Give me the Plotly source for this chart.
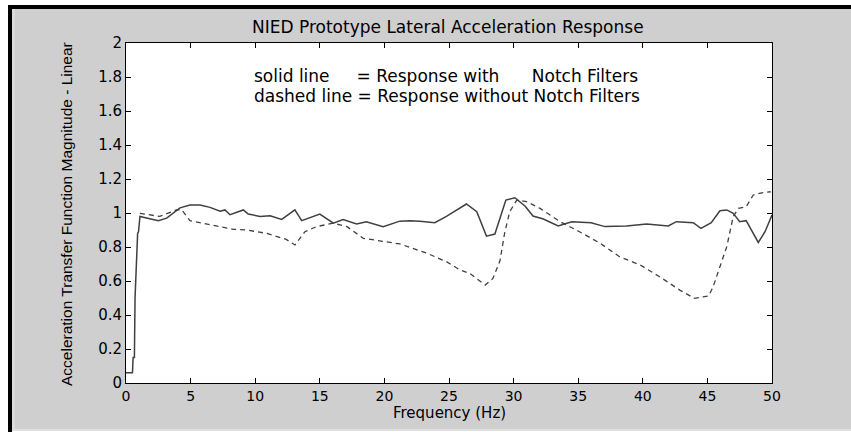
import plotly.graph_objects as go

# ---- data ----
solid_f = [0, 0.5, 0.55, 0.65, 0.7, 0.8, 0.85, 0.9, 0.97, 1.08, 2.5, 3.15, 4.18, 4.95, 5.73, 6.5, 7.28,
           7.66, 8.05, 9.08, 9.46, 10.37, 11.15, 12.05, 13.07, 13.6, 15.0, 16.05, 16.8, 17.85,
           18.6, 19.9, 21.2, 22.0, 22.75, 23.9, 24.8, 25.7, 26.35, 27.15, 27.9, 28.55, 29.4,
           30.1, 30.9, 31.5, 32.3, 33.45, 34.5, 36.0, 37.06, 38.74, 40.3, 41.97, 42.6, 43.9,
           44.5, 45.3, 45.97, 46.5, 47.0, 47.5, 48.0, 48.94, 49.46, 50.0]
solid_v = [0.06, 0.06, 0.15, 0.15, 0.5, 0.7, 0.7, 0.88, 0.89, 0.98, 0.955, 0.97, 1.03, 1.047, 1.047,
           1.033, 1.01, 1.018, 0.99, 1.018, 0.994, 0.98, 0.984, 0.962, 1.018, 0.955, 0.994, 0.94,
           0.962, 0.935, 0.949, 0.92, 0.952, 0.955, 0.952, 0.943, 0.98, 1.02, 1.053, 1.008, 0.864,
           0.876, 1.076, 1.09, 1.04, 0.982, 0.965, 0.924, 0.949, 0.943, 0.92, 0.924, 0.935, 0.924,
           0.949, 0.943, 0.91, 0.943, 1.013, 1.018, 0.998, 0.949, 0.955, 0.827, 0.89, 0.988]

dashed_f = [1.08, 2.6, 3.9, 4.3, 4.95, 5.73, 7.0, 8.3, 9.34, 10.9, 12.4, 13.08, 13.85, 14.75,
            16.05, 17.1, 18.37, 19.9, 21.2, 23.3, 24.8, 25.85, 26.6, 27.8, 28.4, 28.95, 29.3,
            29.7, 30.25, 31.0, 32.05, 33.6, 35.1, 36.7, 38.2, 39.8, 41.3, 42.9, 44.0, 45.1,
            45.45, 45.97, 46.5, 47.0, 47.4, 48.0, 48.55, 49.3, 49.9]
dashed_v = [0.998, 0.98, 1.018, 1.02, 0.955, 0.943, 0.92, 0.904, 0.9, 0.88, 0.845, 0.812, 0.89,
            0.92, 0.94, 0.92, 0.851, 0.831, 0.818, 0.763, 0.714, 0.665, 0.645, 0.576, 0.615,
            0.72, 0.88, 1.008, 1.076, 1.067, 1.027, 0.949, 0.89, 0.822, 0.743, 0.694, 0.625,
            0.545, 0.498, 0.512, 0.567, 0.684, 0.802, 0.98, 1.027, 1.037, 1.106, 1.12, 1.125]

x_ticks = [0, 5, 10, 15, 20, 25, 30, 35, 40, 45, 50]
y_ticks = [0, 0.2, 0.4, 0.6, 0.8, 1, 1.2, 1.4, 1.6, 1.8, 2]
y_tick_text = ["0", "0.2", "0.4", "0.6", "0.8", "1", "1.2", "1.4", "1.6", "1.8", "2"]

title = "NIED Prototype Lateral Acceleration Response"
x_title = "Frequency (Hz)"
y_title = "Acceleration Transfer Function Magnitude - Linear"
note1 = "solid line\u00a0\u00a0\u00a0\u00a0\u00a0= Response with\u00a0\u00a0\u00a0\u00a0\u00a0 Notch Filters"
note2 = "dashed line = Response without Notch Filters"

# ---- layout geometry (pixels) ----
W, H = 851, 432
L, R, T, B = 126, 772, 43, 383
pw, ph = R - L, B - T


def px(x):
    return (x - L) / pw


def py(y):
    return (B - y) / ph


FONT = "DejaVu Sans, Verdana, sans-serif"
NARROW = "Liberation Sans Narrow, Arial Narrow, sans-serif"

fig = go.Figure()
fig.add_trace(go.Scatter(x=solid_f, y=solid_v, mode="lines",
                         line=dict(color="#404040", width=1.5), showlegend=False))
fig.add_trace(go.Scatter(x=dashed_f, y=dashed_v, mode="lines",
                         line=dict(color="#404040", width=1.3, dash="5px,4px"), showlegend=False))

shapes = [
    # gray figure panel
    dict(type="rect", xref="paper", yref="paper", x0=px(12), x1=px(W + 5), y0=py(9), y1=py(430),
         fillcolor="#cfcfcf", line=dict(width=0), layer="below"),
    # light inner edge
    dict(type="line", xref="paper", yref="paper", x0=px(13.5), x1=px(13.5), y0=py(9), y1=py(430),
         line=dict(color="#e0e0e0", width=2), layer="below"),
    dict(type="line", xref="paper", yref="paper", x0=px(12), x1=px(W + 5), y0=py(430), y1=py(430),
         line=dict(color="#e0e0e0", width=2), layer="below"),
    # black borders
    dict(type="rect", xref="paper", yref="paper", x0=px(8), x1=px(12), y0=py(5), y1=py(H + 5),
         fillcolor="black", line=dict(width=0), layer="below"),
    dict(type="rect", xref="paper", yref="paper", x0=px(8), x1=px(W + 5), y0=py(5), y1=py(9),
         fillcolor="black", line=dict(width=0), layer="below"),
    # white plot area
    dict(type="rect", xref="paper", yref="paper", x0=0, x1=1, y0=0, y1=1,
         fillcolor="white", line=dict(width=0), layer="below"),
]

annotations = [
    dict(text=title, xref="paper", yref="paper", x=px(448), y=py(27), xanchor="center", yanchor="middle",
         showarrow=False, font=dict(family=FONT, size=17, color="black")),
    dict(text=note1, xref="paper", yref="paper", x=px(252), y=py(76), xanchor="left", yanchor="middle",
         showarrow=False, font=dict(family=FONT, size=17, color="black")),
    dict(text=note2, xref="paper", yref="paper", x=px(252), y=py(96), xanchor="left", yanchor="middle",
         showarrow=False, font=dict(family=FONT, size=17, color="black")),
    dict(text=x_title, xref="paper", yref="paper", x=px(449), y=py(413), xanchor="center", yanchor="middle",
         showarrow=False, font=dict(family=FONT, size=15, color="black")),
    dict(text=y_title, xref="paper", yref="paper", x=px(66), y=py(214), xanchor="center", yanchor="middle",
         textangle=-90, showarrow=False, font=dict(family=NARROW, size=15.5, color="black")),
]

fig.update_layout(
    width=W, height=H,
    margin=dict(l=L, r=W - R, t=T, b=H - B, pad=0),
    paper_bgcolor="white", plot_bgcolor="rgba(0,0,0,0)",
    shapes=shapes, annotations=annotations,
    xaxis=dict(range=[0, 50], tickvals=x_ticks, ticks="inside", ticklen=5, tickcolor="black",
               showline=True, linecolor="black", linewidth=1, mirror="ticks", showgrid=False,
               zeroline=False, tickfont=dict(family=FONT, size=14, color="black")),
    yaxis=dict(range=[0, 2], tickvals=y_ticks, ticktext=y_tick_text, ticks="inside", ticklen=5,
               tickcolor="black", showline=True, linecolor="black", linewidth=1, mirror="ticks",
               showgrid=False, zeroline=False, tickfont=dict(family=FONT, size=15, color="black")),
)

fig.write_html("out.html", config={"displayModeBar": False},
               post_script="document.body.style.margin='0';document.body.style.overflow='hidden';")
